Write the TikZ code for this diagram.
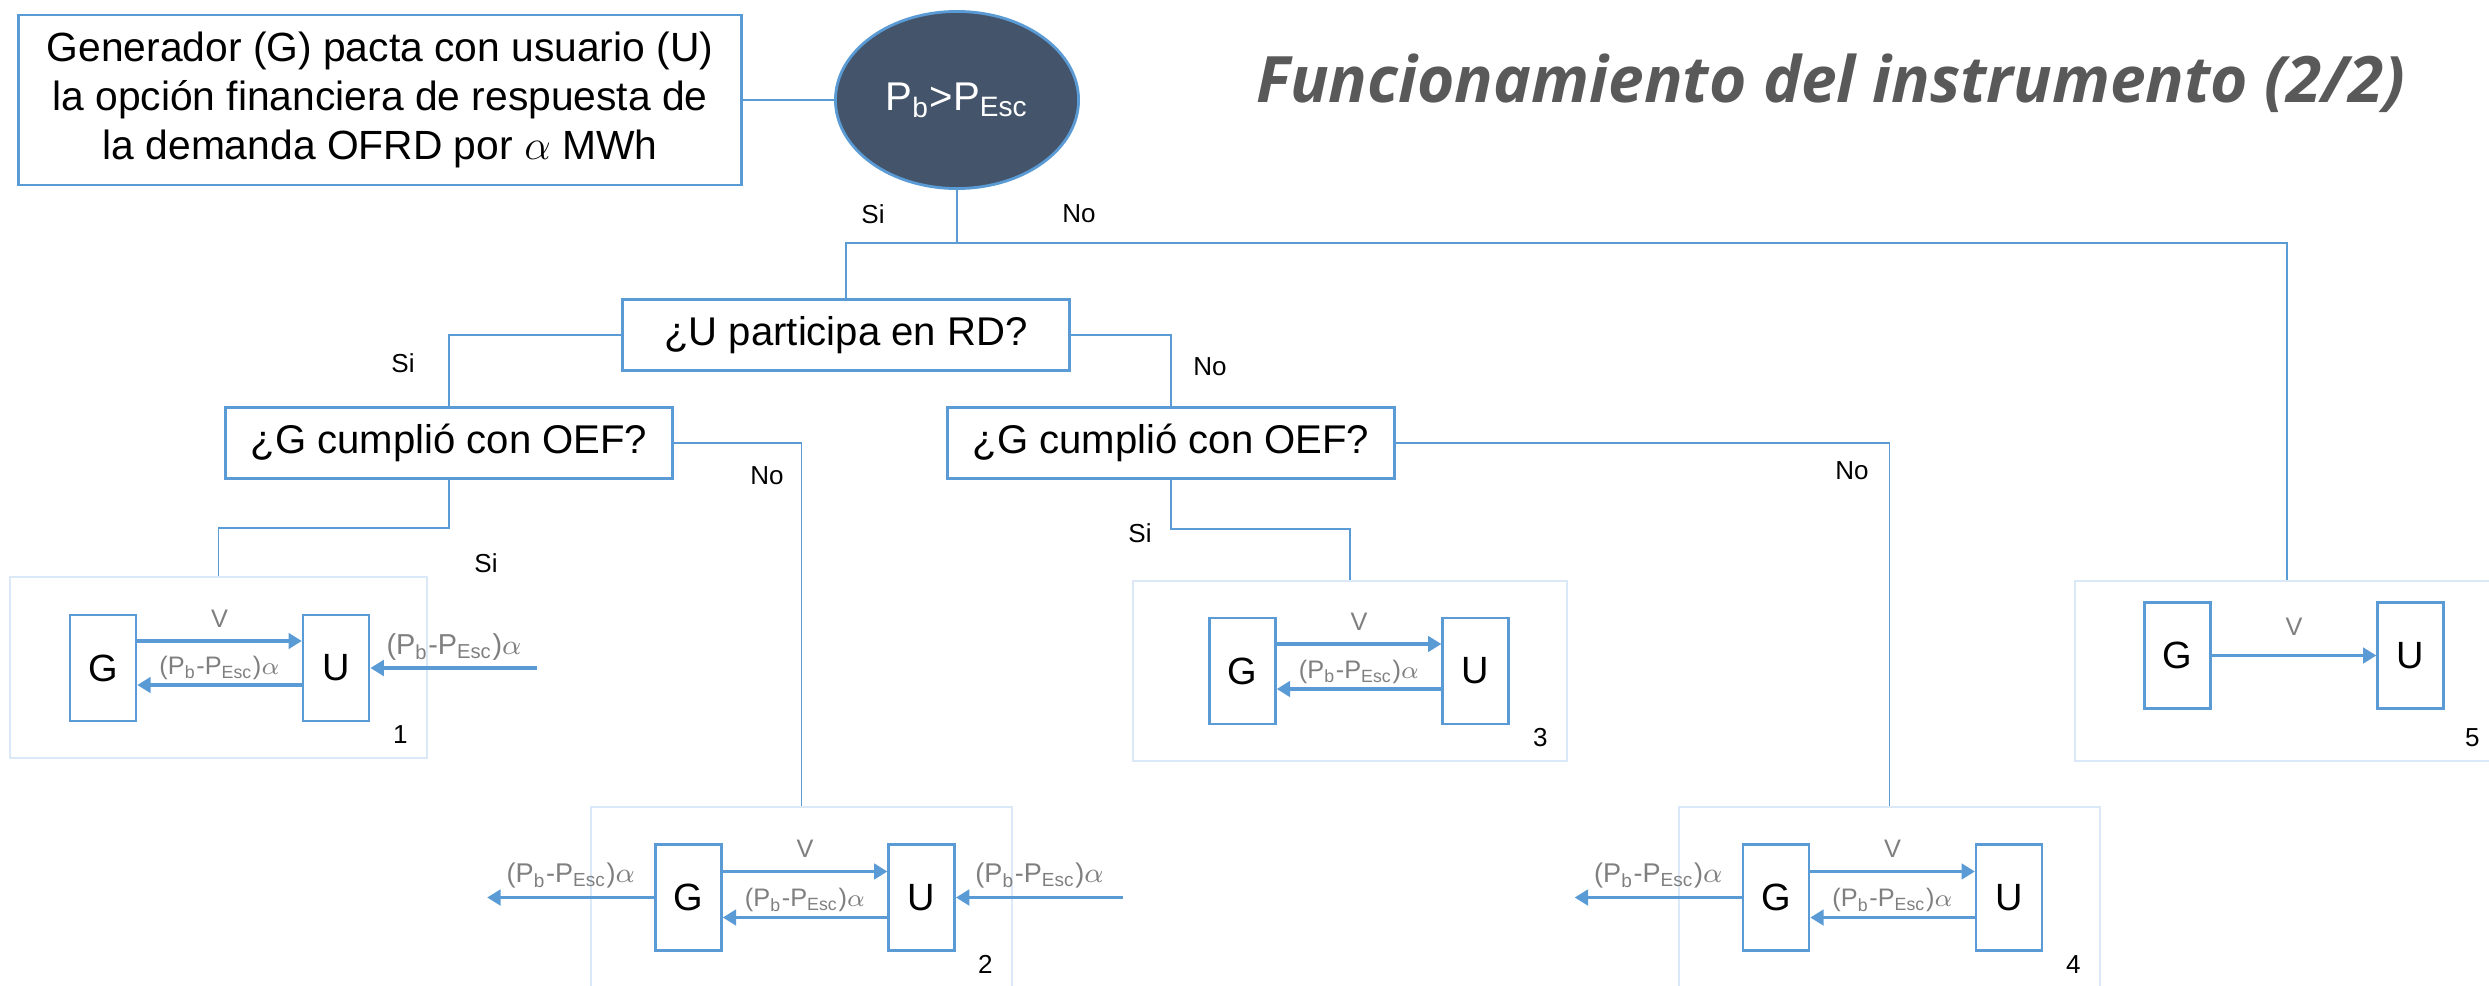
\documentclass[tikz,border=0pt]{standalone}
\usepackage{fontspec}
\setmainfont{Liberation Sans}
\newfontfamily\titlefont{Open Sans}
\usepackage{tikz}
\usepackage{xcolor}
\usetikzlibrary{arrows.meta, positioning, shapes.geometric}

\definecolor{azul}{RGB}{91,155,213}
\definecolor{azulclaro}{RGB}{218,232,247}
\definecolor{pizarra}{RGB}{68,84,106}
\definecolor{gris}{RGB}{127,127,127}
\definecolor{grisosc}{RGB}{89,89,89}

\newcommand{\pbesc}{(P\textsubscript{b}-P\textsubscript{Esc})$\alpha$}

\begin{document}
\begin{tikzpicture}[
    x=0.01cm, y=-0.01cm,
    node distance=2.33cm,
    pregunta/.style={rectangle, draw=azul, line width=0.8pt, fill=white, inner sep=2pt, minimum height=0.71cm, font=\fontsize{11.4}{13.7}\selectfont},
    caso/.style={rectangle, draw=azulclaro, line width=0.7pt, minimum height=1.81cm},
    agente/.style={rectangle, draw=azul, line width=0.7pt, minimum width=0.66cm, minimum height=1.06cm, inner sep=0pt, font=\fontsize{10.8}{13}\selectfont},
    conn/.style={draw=azul, line width=0.5pt},
    flujo/.style={azul, line width=1.1pt, -{Triangle[length=3.8pt, width=4.4pt]}},
    resp/.style={font=\fontsize{7.4}{9}\selectfont},
    pago/.style={text=gris, inner sep=0pt, font=\fontsize{7.2}{9}\selectfont},
    pagoext/.style={pago, font=\fontsize{7.7}{9}\selectfont},
    num/.style={font=\fontsize{7.4}{9}\selectfont}
]
\useasboundingbox (0,0) rectangle (2489,985);

% titulo
\node[anchor=base east, text=grisosc, font=\titlefont\bfseries\itshape\fontsize{18.2}{22}\selectfont] (titulo) at (2418,103) {Funcionamiento del instrumento (2/2)};

% acuerdo y condicion
\node[rectangle, draw=azul, line width=0.8pt, minimum width=7.22cm, minimum height=1.7cm, align=center, font=\fontsize{11.6}{14}\selectfont] (acuerdo) at (380,100) {Generador (G) pacta con usuario (U)\\la opción financiera de respuesta de\\la demanda OFRD por $\alpha$ MWh};
\node[ellipse, draw=azul, line width=0.8pt, fill=pizarra, minimum width=2.43cm, minimum height=1.77cm, text=white, font=\fontsize{11.4}{13}\selectfont] (cond) at (957,100) {P\textsubscript{b}>P\textsubscript{Esc}};

% preguntas
\node[pregunta, minimum width=4.46cm] (rd) at (846,335) {¿U participa en RD?};
\node[pregunta, minimum width=4.47cm] (oefa) at (449,443) {¿G cumplió con OEF?};
\node[pregunta, minimum width=4.46cm] (oefb) at (1171,443) {¿G cumplió con OEF?};

% casos
\node[caso, minimum width=4.17cm] (caso1) at (218.5,667.5) {};
\node[caso, minimum width=4.21cm] (caso2) at (801.5,897.5) {};
\node[caso, minimum width=4.34cm, minimum height=1.80cm] (caso3) at (1350,671) {};
\node[caso, minimum width=4.21cm] (caso4) at (1889.5,897.5) {};
\node[caso, minimum width=4.24cm, minimum height=1.80cm] (caso5) at (2287,671) {};

% conexiones
\coordinate (j0) at (957,243);
\coordinate (j1) at (449,528);
\coordinate (j2) at (1171,529);
\draw[conn] (acuerdo) -- (cond);
\draw[conn] (cond) -- (j0);
\draw[conn] (j0) -| (rd);
\draw[conn] (j0) -| (caso5);
\draw[conn] (rd) -| (oefa);
\draw[conn] (rd) -| (oefb);
\draw[conn] (oefa) -| (caso2);
\draw[conn] (oefb) -| (caso4);
\draw[conn] (oefa) -- (j1) -| (caso1);
\draw[conn] (oefb) -- (j2) -| (caso3);

% respuestas
\node[resp] (si0) at (873,214) {Si};
\node[resp] (no0) at (1079,214) {No};
\node[resp] (si1) at (403,363) {Si};
\node[resp] (no1) at (1210,367) {No};
\node[resp] (no2) at (767,476) {No};
\node[resp] (si2) at (486,563) {Si};
\node[resp] (no3) at (1852,471) {No};
\node[resp] (si3) at (1140,533) {Si};

% caso 1
\node[agente] (g1) at (103,668) {G};
\node[agente, right of=g1] (u1) {U};
\coordinate[right=1.67cm of u1] (e1);
\draw[flujo] ([yshift=0.27cm]g1.east) -- node[pago, above=0.12cm] (v1) {V} ([yshift=0.27cm]u1.west);
\draw[flujo] ([yshift=-0.17cm]u1.west) -- node[pago, above=1pt] (r1) {\pbesc} ([yshift=-0.17cm]g1.east);
\draw[flujo] (e1) -- node[pagoext, font=\fontsize{8.2}{9}\selectfont, above=0.06cm] (x1) {\pbesc} (u1);
\node[num] (n1) at ([xshift=-0.28cm, yshift=0.25cm]caso1.south east) {1};

% caso 2
\node[agente] (g2) at (688.5,897.5) {G};
\node[agente, right of=g2] (u2) {U};
\coordinate[right=1.67cm of u2] (e2);
\coordinate[left=1.67cm of g2] (s2);
\draw[flujo] ([yshift=0.26cm]g2.east) -- node[pago, above=0.12cm] (v2) {V} ([yshift=0.26cm]u2.west);
\draw[flujo] ([yshift=-0.2cm]u2.west) -- node[pago, above=1pt] (r2) {\pbesc} ([yshift=-0.2cm]g2.east);
\draw[flujo] (e2) -- node[pagoext, above=0.07cm] (x2) {\pbesc} (u2);
\draw[flujo] (g2) -- node[pagoext, above=0.07cm] (y2) {\pbesc} (s2);
\node[num] (n2) at ([xshift=-0.28cm, yshift=0.25cm]caso2.south east) {2};

% caso 3
\node[agente] (g3) at (1242.5,671) {G};
\node[agente, right of=g3] (u3) {U};
\draw[flujo] ([yshift=0.27cm]g3.east) -- node[pago, above=0.12cm] (v3) {V} ([yshift=0.27cm]u3.west);
\draw[flujo] ([yshift=-0.18cm]u3.west) -- node[pago, above=1pt] (r3) {\pbesc} ([yshift=-0.18cm]g3.east);
\node[num] (n3) at ([xshift=-0.28cm, yshift=0.25cm]caso3.south east) {3};

% caso 4
\node[agente] (g4) at (1776,897.5) {G};
\node[agente, right of=g4] (u4) {U};
\coordinate[left=1.67cm of g4] (s4);
\draw[flujo] ([yshift=0.26cm]g4.east) -- node[pago, above=0.12cm] (v4) {V} ([yshift=0.26cm]u4.west);
\draw[flujo] ([yshift=-0.2cm]u4.west) -- node[pago, above=1pt] (r4) {\pbesc} ([yshift=-0.2cm]g4.east);
\draw[flujo] (g4) -- node[pagoext, above=0.07cm] (y4) {\pbesc} (s4);
\node[num] (n4) at ([xshift=-0.28cm, yshift=0.25cm]caso4.south east) {4};

% caso 5
\node[agente] (g5) at (2177.5,655.5) {G};
\node[agente, right of=g5] (u5) {U};
\draw[flujo] (g5) -- node[pago, above=0.18cm] (v5) {V} (u5);
\node[num] (n5) at ([xshift=-0.28cm, yshift=0.25cm]caso5.south east) {5};
\end{tikzpicture}
\end{document}
